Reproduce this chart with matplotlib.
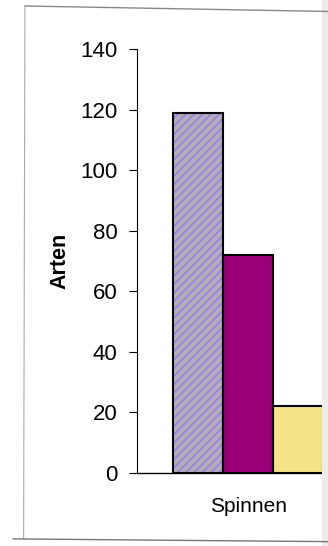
import matplotlib
matplotlib.use('Agg')
from matplotlib import pyplot as plt
from matplotlib.patches import Rectangle
from matplotlib.lines import Line2D

plt.rcParams['font.family'] = ['Liberation Sans', 'DejaVu Sans']
plt.rcParams['hatch.linewidth'] = 1.2

category = 'Spinnen'
offsets = [-0.25, 0.0, 0.25]
values = [119, 72, 22]
faces = ['#b3adbd', '#990077', '#f2e487']
hatches = ['////', '', '']
hatch_colors = ['#9c80dc', '#990077', '#f2e487']
yticks = [0, 20, 40, 60, 80, 100, 120, 140]

fig = plt.figure(figsize=(3.28, 5.46), dpi=100)
ax = fig.add_axes([0.418, 0.1337, 0.567, 0.7766])

# fill + hatch first, then black outline on top
ax.bar(offsets, values, width=0.25, color=faces, edgecolor=hatch_colors,
       hatch=hatches, linewidth=0, zorder=2)
ax.bar(offsets, values, width=0.25, fill=False, edgecolor='black',
       linewidth=1.5, zorder=3)

ax.set_xlim(-0.555, 0.375)
ax.set_ylim(0, 140)
ax.set_yticks(yticks)
ax.set_xticks([0])
ax.set_xticklabels([category])
ax.tick_params(axis='y', length=6, width=0.8, pad=8, labelsize=16)
ax.tick_params(axis='x', length=0, pad=17, labelsize=15)
ax.set_ylabel('Arten', fontsize=15.5, fontweight='bold', labelpad=7)

ax.spines['top'].set_visible(False)
ax.spines['right'].set_visible(False)
ax.spines['left'].set_linewidth(0.8)
ax.spines['bottom'].set_linewidth(1.0)

# page frame of the scan
fig.add_artist(Line2D([0.076, 1.0], [0.989, 0.979], color='#888888', lw=1.0))
fig.add_artist(Line2D([0.076, 0.072], [0.989, 0.013], color='#aaaaaa', lw=0.8))
fig.add_artist(Line2D([0.04, 1.0], [0.013, 0.008], color='#777777', lw=1.0))
fig.add_artist(Rectangle((0.982, 0.0), 0.018, 1.0, color='#ececec', lw=0))

fig.savefig('out.png', dpi=100)
